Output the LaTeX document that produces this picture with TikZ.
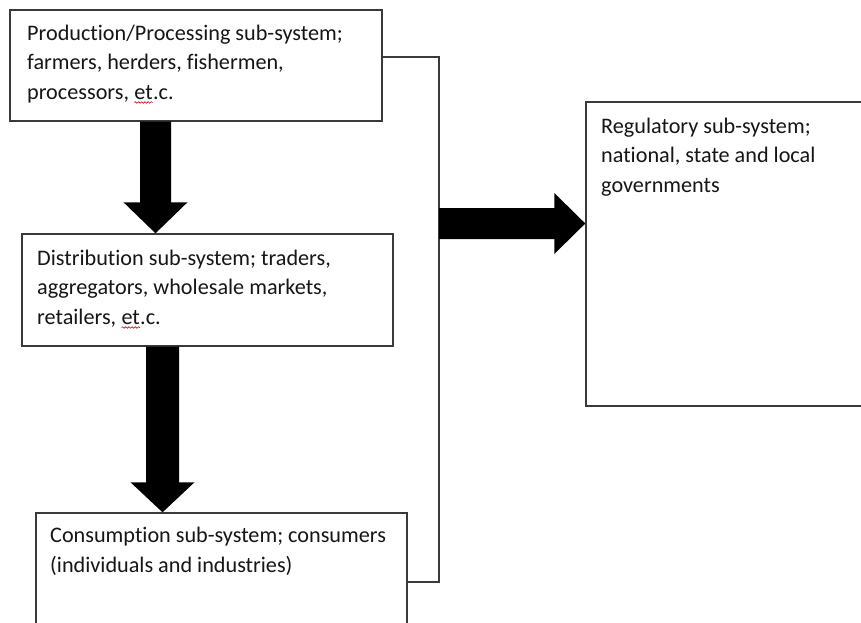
\documentclass[tikz,border=0pt]{standalone}
\usepackage{fontspec}
\setmainfont[Ligatures=NoCommon]{Carlito}
\usetikzlibrary{calc,decorations.pathmorphing}

\definecolor{edge}{HTML}{3A3A3A}
\definecolor{ink}{HTML}{161616}

% red wavy underline, as a spell checker marks a word
\newcommand\spellmark[1]{\tikz[baseline=(w.base)]{\node[inner sep=0pt,outer sep=0pt] (w) {#1};
  \draw[red!80!black,line width=0.6pt,decorate,decoration={snake,amplitude=0.8pt,segment length=3.2pt}]
    ([yshift=-3.5pt]w.base west) -- ([yshift=-3.5pt]w.base east);}}

% thick block arrow: from, to, half shaft width, half head width, head length
\newcommand\blockarrow[5]{%
  \path coordinate (hb) at ($(#2)!#5!(#1)$);
  \fill[black] ($(#1)!#3!90:(#2)$) -- ($(hb)!#3!-90:(#1)$) -- ($(hb)!#4!-90:(#1)$) -- (#2)
     -- ($(hb)!#4!90:(#1)$) -- ($(hb)!#3!90:(#1)$) -- ($(#1)!#3!-90:(#2)$) -- cycle;}

\begin{document}
\begin{tikzpicture}[x=1pt,y=-1pt,
  box/.style={draw=edge,line width=1.4pt,fill=white,rectangle,inner sep=0pt},
  % anchored at the baseline of the last line
  label/.style={anchor=base west,align=left,inner sep=0pt,text=ink,
                font=\fontsize{22.2}{29.5}\selectfont},
  wire/.style={draw=edge,line width=1.4pt}]
\clip (0,0) rectangle (861,622);
\fill[white] (0,0) rectangle (861,622);

% the four sub-system boxes
\node[box,minimum width=372pt,minimum height=111pt] (prod) at (196,65.5) {};
\node[box,minimum width=371pt,minimum height=112pt] (dist) at (207.5,290) {};
\node[box,minimum width=371pt,minimum height=150pt] (cons) at (221.5,588) {};
\node[box,minimum width=300pt,minimum height=304pt] (reg)  at (736,254) {};

% box texts
\node[label] (prodtxt) at (27,99) {Production/Processing sub-system;\\farmers, herders, fishermen,\\processors, \spellmark{et}.c.};
\node[label] (disttxt) at (37,324) {Distribution sub-system; traders,\\aggregators, wholesale markets,\\retailers, \spellmark{et}.c.};
\node[label] (constxt) at (50,572) {Consumption sub-system; consumers\\(individuals and industries)};
\node[label] (regtxt)  at (601,192) {Regulatory sub-system;\\national, state and local\\governments};

% bracket joining the production and consumption boxes
\coordinate (bustop) at (439,57);
\coordinate (busbot) at (439,582);
\coordinate (busmid) at (439,223.5);
\draw[wire] (prod.east |- bustop) -- (bustop) -- (busbot) -- (cons.east |- busbot);

% block arrows
\coordinate (c1) at (155.5,0);
\coordinate (c2) at (162.5,0);
\blockarrow{prod.south -| c1}{dist.north -| c1}{15.5pt}{32pt}{31pt}
\blockarrow{dist.south -| c2}{cons.north -| c2}{16.5pt}{32pt}{30pt}
\blockarrow{busmid}{reg.west |- busmid}{15.5pt}{30.5pt}{31pt}
\end{tikzpicture}
\end{document}
